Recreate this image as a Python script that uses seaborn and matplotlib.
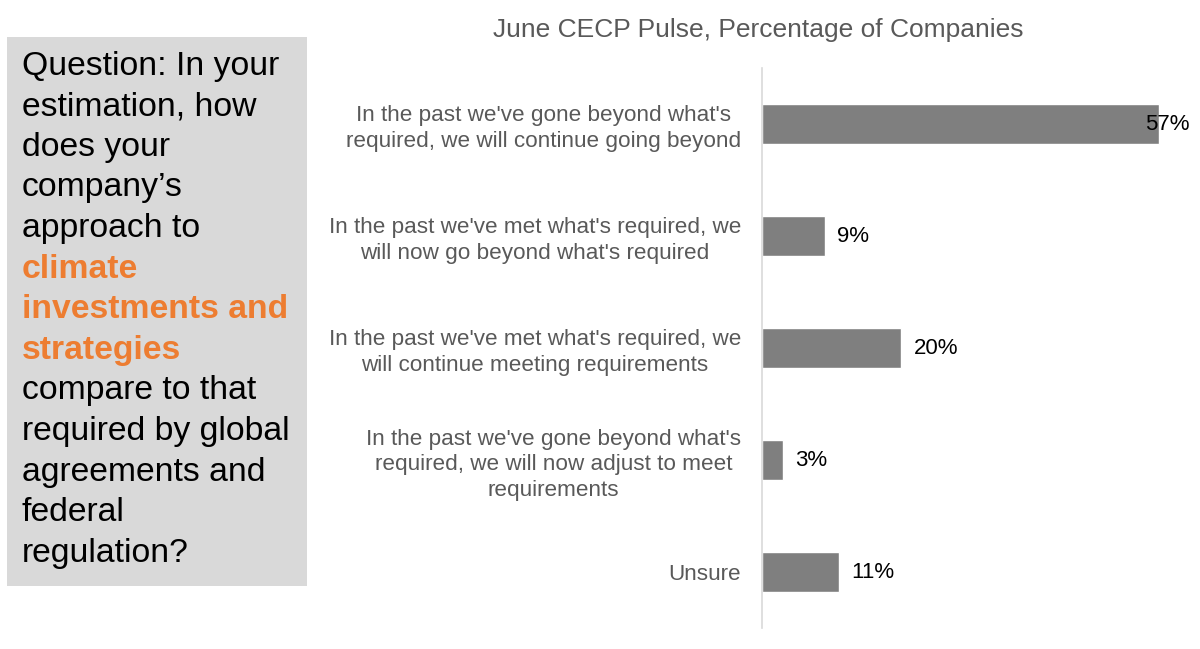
import matplotlib
matplotlib.use("Agg")
import matplotlib.pyplot as plt
import matplotlib.patches as mpatches
import seaborn as sns
import pandas as pd

# data
categories = [
    "In the past we've gone beyond what's\nrequired, we will continue going beyond",
    "In the past we've met what's required, we\nwill now go beyond what's required",
    "In the past we've met what's required, we\nwill continue meeting requirements",
    "In the past we've gone beyond what's\nrequired, we will now adjust to meet\nrequirements",
    "Unsure",
]
values = [57, 9, 20, 3, 11]
value_labels = ["57%", "9%", "20%", "3%", "11%"]

title = "June CECP Pulse, Percentage of Companies"
question_lines = [
    ("Question: In your", False),
    ("estimation, how", False),
    ("does your", False),
    ("company\u2019s", False),
    ("approach to", False),
    ("climate", True),
    ("investments and", True),
    ("strategies", True),
    ("compare to that", False),
    ("required by global", False),
    ("agreements and", False),
    ("federal", False),
    ("regulation?", False),
]

sns.set_style("white")
plt.rcParams["font.family"] = ["Liberation Sans", "DejaVu Sans"]

W, H = 1200, 649
fig = plt.figure(figsize=(12, 6.49), dpi=100)

# axes: left edge at x=762 px, from y=68 to 628 px
ax = fig.add_axes([762 / W, (H - 628) / H, 418 / W, 560 / H])

df = pd.DataFrame({"answer": categories, "pct": values})
sns.barplot(data=df, y="answer", x="pct", orient="h", color="#7f7f7f",
            width=0.36, saturation=1, ax=ax)

ax.set_xlim(0, 60)
ax.set_ylim(4.5, -0.5)
ax.set_xlabel("")
ax.set_ylabel("")
ax.set_xticks([])
for side in ["top", "right", "bottom"]:
    ax.spines[side].set_visible(False)
ax.spines["left"].set_color("#d9d9d9")
ax.spines["left"].set_linewidth(1.2)
ax.tick_params(axis="y", length=0, pad=15, labelsize=16.2, labelcolor="#595959")
for t in ax.get_yticklabels():
    t.set_multialignment("center")
    t.set_linespacing(1.3)

top = max(values)
for patch, lab, v in zip(ax.patches, value_labels, values):
    y = patch.get_y() + patch.get_height() / 2
    off = -10 if v == top else 9
    ax.annotate(lab, xy=(patch.get_width(), y), xytext=(off, 0),
                textcoords="offset points", va="center", ha="left",
                fontsize=16, color="black")

fig.text(758 / W, 1 - 30 / H, title, ha="center", va="center",
         fontsize=19, color="#595959")

# question box
box = mpatches.Rectangle((7 / W, (H - 586) / H), 300 / W, 549 / H,
                         transform=fig.transFigure, facecolor="#d9d9d9",
                         edgecolor="none", zorder=0)
fig.patches.append(box)

y0, step = 66, 40.6
for i, (line, hi) in enumerate(question_lines):
    fig.text(22 / W, 1 - (y0 + i * step) / H, line, ha="left", va="center",
             fontsize=24.3, color="#ed7d31" if hi else "black",
             fontweight="bold" if hi else "normal")

fig.savefig("out.png", dpi=100)
